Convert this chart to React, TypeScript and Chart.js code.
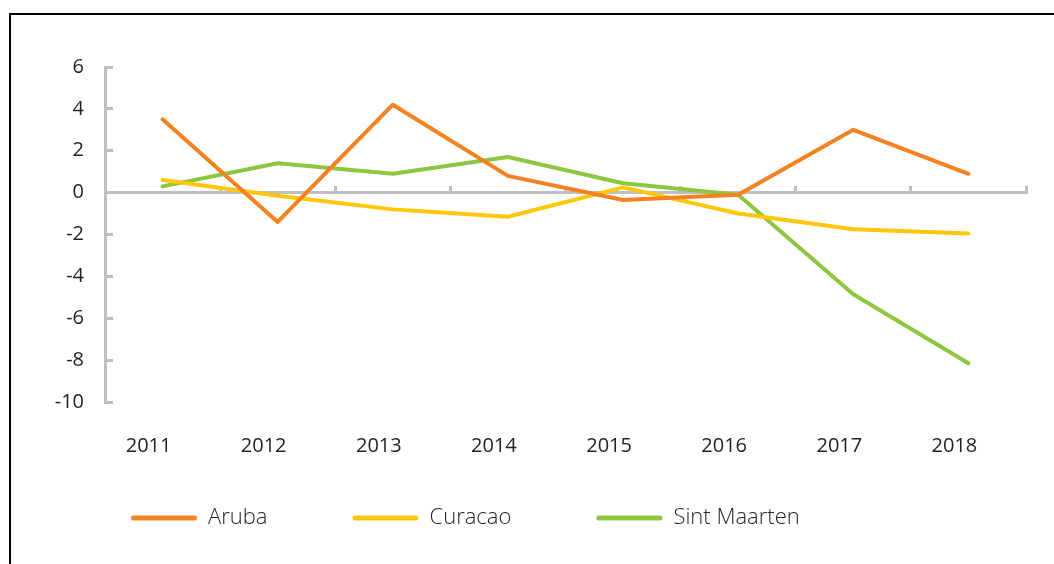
import { useEffect, useRef } from 'react';
import { Chart, registerables } from 'chart.js';

Chart.register(...registerables);

const categories = ['2011', '2012', '2013', '2014', '2015', '2016', '2017', '2018'];
const aruba = [3.5, -1.4, 4.2, 0.8, -0.35, -0.1, 3.0, 0.9];
const curacao = [0.6, -0.15, -0.8, -1.15, 0.25, -1.0, -1.75, -1.95];
const sintMaarten = [0.3, 1.4, 0.9, 1.7, 0.45, -0.1, -4.85, -8.15];
const seriesNames = ['Aruba', 'Curacao', 'Sint Maarten'];
const yMin = -10;
const yMax = 6;
const yStep = 2;

const colors = ['#F58220', '#FFC70B', '#8DC63F'];
const axisGray = '#BEBFC2';
const textColor = '#231F20';
const font = 'Open Sans';

export default function App() {
  const ref = useRef<HTMLCanvasElement>(null);

  useEffect(() => {
    if (!ref.current) return;
    const series = [aruba, curacao, sintMaarten];
    const chart = new Chart(ref.current, {
      type: 'line',
      data: {
        labels: categories,
        datasets: series.map((d, i) => ({
          label: seriesNames[i],
          data: d,
          borderColor: colors[i],
          backgroundColor: colors[i],
          borderWidth: 4,
          pointRadius: 0,
          pointHoverRadius: 0,
          tension: 0,
          borderCapStyle: 'round' as const,
          borderJoinStyle: 'round' as const,
          fill: false,
        })),
      },
      options: {
        responsive: false,
        animation: false,
        layout: { padding: { top: 52, right: 28, left: 35, bottom: 25 } },
        plugins: {
          tooltip: { enabled: false },
          legend: {
            position: 'bottom',
            align: 'start',
            labels: {
              boxWidth: 66,
              boxHeight: 5,
              padding: 85,
              color: textColor,
              font: { family: font, size: 22, weight: '300' as any },
              generateLabels: (c: any) =>
                Chart.defaults.plugins.legend.labels
                  .generateLabels(c)
                  .map((l: any) => ({ ...l, lineWidth: 0, fillStyle: l.strokeStyle, borderRadius: 2.5 })),
            },
          },
        },
        scales: {
          x: {
            type: 'category',
            position: 'bottom',
            offset: true,
            border: { display: false },
            grid: { display: false, drawTicks: false },
            ticks: {
              color: textColor,
              font: { family: font, size: 20 },
              mirror: true,
              padding: -56,
              labelOffset: -14,
              autoSkip: false,
              maxRotation: 0,
            },
            afterFit: (s: any) => {
              s.height = 20;
            },
          },
          x2: {
            type: 'category',
            axis: 'x',
            position: { y: 0 } as any,
            offset: true,
            border: { display: true, color: axisGray, width: 3 },
            grid: {
              offset: true,
              drawOnChartArea: false,
              drawTicks: true,
              tickLength: -8,
              color: axisGray,
              lineWidth: 3,
            },
            ticks: { display: false },
          },
          y: {
            type: 'linear',
            position: 'left',
            min: yMin,
            max: yMax,
            border: { display: true, color: axisGray, width: 3 },
            grid: {
              drawOnChartArea: false,
              drawTicks: true,
              tickLength: -8,
              color: axisGray,
              lineWidth: 3,
            },
            ticks: {
              stepSize: yStep,
              color: textColor,
              font: { family: font, size: 20 },
              padding: 29,
            },
            afterFit: (s: any) => {
              s.width = 59;
            },
          },
        },
      },
    } as any);
    return () => chart.destroy();
  }, []);

  return (
    <div
      style={{
        position: 'fixed',
        left: 0,
        top: 0,
        width: 1054,
        height: 564,
        overflow: 'hidden',
        background: '#fff',
      }}
    >
      <div
        style={{
          position: 'absolute',
          left: 9,
          top: 13,
          width: 1100,
          height: 600,
          borderLeft: '2px solid #000',
          borderTop: '2px solid #000',
        }}
      />
      <canvas
        ref={ref}
        width={1043}
        height={549}
        style={{ position: 'absolute', left: 11, top: 15, display: 'block' }}
      />
    </div>
  );
}
